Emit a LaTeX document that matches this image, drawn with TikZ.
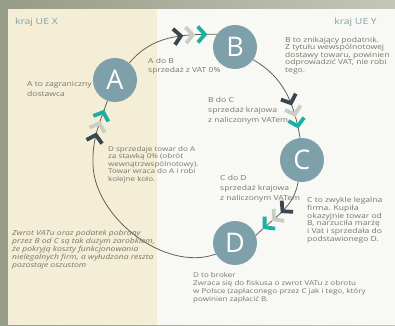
\documentclass[tikz,border=0pt]{standalone}
\usepackage{fontspec}
\setmainfont{Open Sans}[FakeStretch=1.22]
\newfontfamily\hubfont{Open Sans}
\usetikzlibrary{decorations.markings}

\definecolor{framedark}{RGB}{150,156,136}
\definecolor{framelight}{RGB}{196,199,182}
\definecolor{creambg}{RGB}{244,238,214}
\definecolor{whitebg}{RGB}{248,249,244}
\definecolor{hubblue}{RGB}{126,160,170}
\definecolor{chevdark}{RGB}{56,70,80}
\definecolor{chevlight}{RGB}{202,205,199}
\definecolor{chevteal}{RGB}{26,176,166}
\definecolor{notegray}{RGB}{118,118,108}
\definecolor{labelblue}{RGB}{128,160,168}
\definecolor{linegray}{RGB}{100,96,84}

\begin{document}
\begin{tikzpicture}[x=1pt,y=-1pt,
    hub/.style={circle, fill=hubblue, minimum size=44pt, inner sep=0pt, text=white, font=\hubfont\fontsize{27}{27}\selectfont},
    note/.style={anchor=north west, inner sep=0pt, align=left, text=notegray, font=\fontsize{7}{7.8}\selectfont},
    notewide/.style={note, font=\fontsize{7}{10}\selectfont},
    region/.style={inner sep=0pt, text=labelblue, font=\fontsize{8.5}{10}\selectfont},
    arcline/.style={draw=linegray, line width=0.8pt},
    chevdraw/.style={line width=3.8pt, miter limit=10},
    chevrons/.style={postaction={decorate}, decoration={markings,
        mark=at position -36pt with {\draw[chevdraw, chevdark] (-7,8) -- (0,0) -- (-7,-8);},
        mark=at position -24pt with {\draw[chevdraw, chevlight] (-7,8) -- (0,0) -- (-7,-8);},
        mark=at position -12pt with {\draw[chevdraw, chevteal] (-7,8) -- (0,0) -- (-7,-8);}}}]
    \useasboundingbox (0,0) rectangle (395,325);
    %frame and the two countries
    \shade[left color=framedark, right color=framelight] (0,0) rectangle (395,325);
    \fill[creambg] (8,9) rectangle (157,325);
    \fill[whitebg] (157,9) rectangle (395,325);
    \node[region, anchor=west] (krajX) at (15,22) {kraj UE X};
    \node[region, anchor=east] (krajY) at (377,22) {kraj UE Y};

    %the four firms
    \node[hub] (A) at (115,80) {A};
    \node[hub] (B) at (235,47) {B};
    \node[hub] (C) at (302,160) {C};
    \node[hub] (D) at (235,243) {D};

    %the carousel
    \coordinate (west) at (93,165);
    \draw[arcline, chevrons] (A.50) to [out=50,in=180] (B.145);
    \draw[arcline, chevrons] (B.-35) to [out=-30,in=100] (C.95);
    \draw[arcline, chevrons] (C.-100) to [out=-100,in=45] (D.20);
    \draw[arcline, chevrons] (D.210) to [out=200,in=-88,looseness=0.9] (west) to [out=92,in=250] (A.250);

    %texts
    \node[notewide] (zagr) at (27,81) {A to zagraniczny\\dostawca};
    \node[note, font=\fontsize{7}{8.5}\selectfont] (AdoB) at (148,58) {A do B\\sprzedaż z VAT 0\%};
    \node[note, font=\fontsize{7}{7.4}\selectfont] (Bnote) at (285,37) {B to znikający podatnik.\\Z tytułu wewspólnotowej\\dostawy towaru, powinien\\odprowadzić VAT, nie robi\\tego.};
    \node[notewide] (BdoC) at (208,97) {B do C\\sprzedaż krajowa\\z naliczonym VATem};
    \node[notewide] (CdoD) at (220,175) {C do D\\sprzedaż krajowa\\z naliczonym VATem};
    \node[note] (Cnote) at (307,197) {C to zwykle legalna\\firma. Kupiła\\okazyjnie towar od\\B, narzuciła marżę\\i Vat i sprzedała do\\podstawionego D.};
    \node[note, font=\fontsize{6.6}{7.5}\selectfont] (Dsells) at (108,146) {D sprzedaje towar do A\\za stawką 0\% (obrót\\wewnątrzwspólnotowy).\\Towar wraca do A i robi\\kolejne koło.};
    \node[note, font=\fontsize{7}{8}\selectfont\itshape] (zysk) at (12,230) {Zwrot VATu oraz podatek pobrany\\przez B od C są tak dużym zarobkiem,\\że pokryją koszty funkcjonowania\\nielegalnych firm, a wyłudzona reszta\\pozostaje oszustom};
    \node[note, font=\fontsize{6.6}{8}\selectfont] (Dnote) at (193,272) {D to broker\\Zwraca się do fiskusa o zwrot VATu z obrotu\\w Polsce (zapłaconego przez C jak i tego, który\\powinien zapłacić B.};
\end{tikzpicture}
\end{document}
